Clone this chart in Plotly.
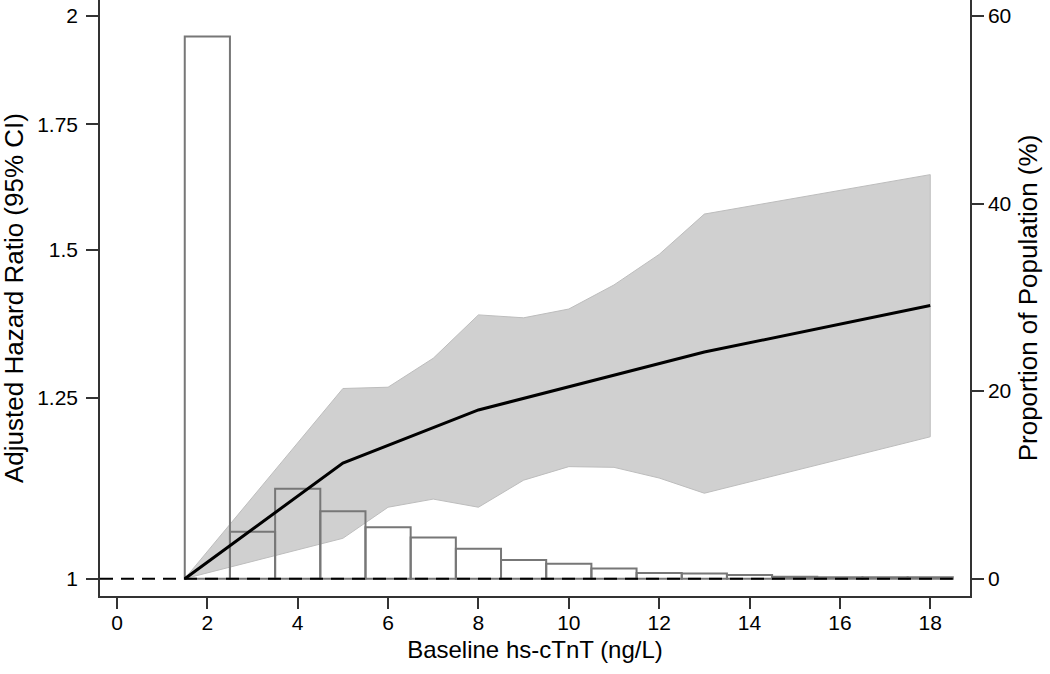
import plotly.graph_objects as go

# histograma: proporção da população por faixa de hs-cTnT (centro da faixa, %)
bin_centers = [2, 3, 4, 5, 6, 7, 8, 9, 10, 11, 12, 13, 14, 15, 16, 17, 18]
pop_pct = [57.8, 5.0, 9.6, 7.2, 5.5, 4.4, 3.2, 2.0, 1.6, 1.1, 0.6, 0.55, 0.4, 0.2, 0.15, 0.15, 0.15]

# curva da razão de risco ajustada
hr_x = [1.5, 5, 8, 13, 18]
hr_y = [1.0, 1.153, 1.231, 1.322, 1.400]

# intervalo de confiança de 95%
ci_x = [1.5, 5, 6, 7, 8, 9, 10, 11, 12, 13, 18]
ci_upper = [1.0, 1.264, 1.266, 1.312, 1.384, 1.379, 1.394, 1.436, 1.491, 1.567, 1.645]
ci_lower = [1.0, 1.051, 1.092, 1.103, 1.092, 1.129, 1.148, 1.147, 1.132, 1.111, 1.191]

hr_ticks = [1, 1.25, 1.5, 1.75, 2]
hr_ticktext = ["1", "1.25", "1.5", "1.75", "2"]
pct_ticks = [0, 20, 40, 60]
x_ticks = list(range(0, 19, 2))

FONTE = "Arial, Liberation Sans, sans-serif"
EIXO = "#333333"

fig = go.Figure()

fig.add_trace(go.Scatter(
    x=ci_x + ci_x[::-1],
    y=ci_upper + ci_lower[::-1],
    fill='toself',
    fillcolor='#d0d0d0',
    mode='lines',
    line=dict(color='#bdbdbd', width=1),
    yaxis='y',
    hoverinfo='skip',
))

fig.add_trace(go.Bar(
    x=bin_centers,
    y=pop_pct,
    width=1,
    marker=dict(color='rgba(0,0,0,0)', line=dict(color='#777777', width=2)),
    yaxis='y2',
))

fig.add_trace(go.Scatter(
    x=hr_x,
    y=hr_y,
    mode='lines',
    line=dict(color='black', width=3),
    yaxis='y3',
))

fig.add_shape(
    type='line', xref='x', yref='y2',
    x0=-0.376, x1=18.5, y0=0, y1=0,
    line=dict(color='black', width=2, dash='13px,8px'),
    layer='above',
)

# título do eixo esquerdo como anotação, para controlar a posição
fig.add_annotation(
    text="Adjusted Hazard Ratio (95% CI)",
    textangle=-90,
    xref='paper', yref='paper', x=0, y=0.5,
    xanchor='center', yanchor='middle',
    xshift=-86,
    showarrow=False,
    font=dict(size=26),
)

log_range = [-0.00927, 0.3096]

fig.update_layout(
    width=1050,
    height=674,
    margin={"l": 100, "r": 80, "t": 0, "b": 78},
    plot_bgcolor='white',
    paper_bgcolor='white',
    showlegend=False,
    font=dict(family=FONTE, size=21, color='black'),
    xaxis=dict(
        range=[-0.376, 18.88],
        tickvals=x_ticks,
        ticks='outside', ticklen=11, tickwidth=1.5, tickcolor=EIXO,
        ticklabelstandoff=-4,
        showline=True, linecolor=EIXO, linewidth=1.5,
        showgrid=False, zeroline=False, automargin=False,
        title=dict(text="Baseline hs-cTnT (ng/L)", font=dict(size=24), standoff=8),
    ),
    yaxis=dict(
        type='log',
        range=log_range,
        tickvals=hr_ticks, ticktext=hr_ticktext,
        ticks='outside', ticklen=12, tickwidth=1.5, tickcolor=EIXO,
        ticklabelstandoff=4,
        showline=True, linecolor=EIXO, linewidth=1.5,
        showgrid=False, zeroline=False, automargin=False,
    ),
    yaxis2=dict(
        overlaying='y', side='right',
        range=[-1.84, 61.7],
        tickvals=pct_ticks,
        ticks='outside', ticklen=12, tickwidth=1.5, tickcolor=EIXO,
        showline=True, linecolor=EIXO, linewidth=1.5,
        showgrid=False, zeroline=False, automargin=False,
        title=dict(text="Proportion of Population (%)", font=dict(size=26), standoff=8),
    ),
    yaxis3=dict(
        overlaying='y', type='log', range=log_range, visible=False,
    ),
)

# a página tem margem de 8px no body; remove para alinhar com a janela
fig.write_html(
    "out.html",
    config=dict(displayModeBar=False),
    post_script="document.body.style.margin='0';",
)
